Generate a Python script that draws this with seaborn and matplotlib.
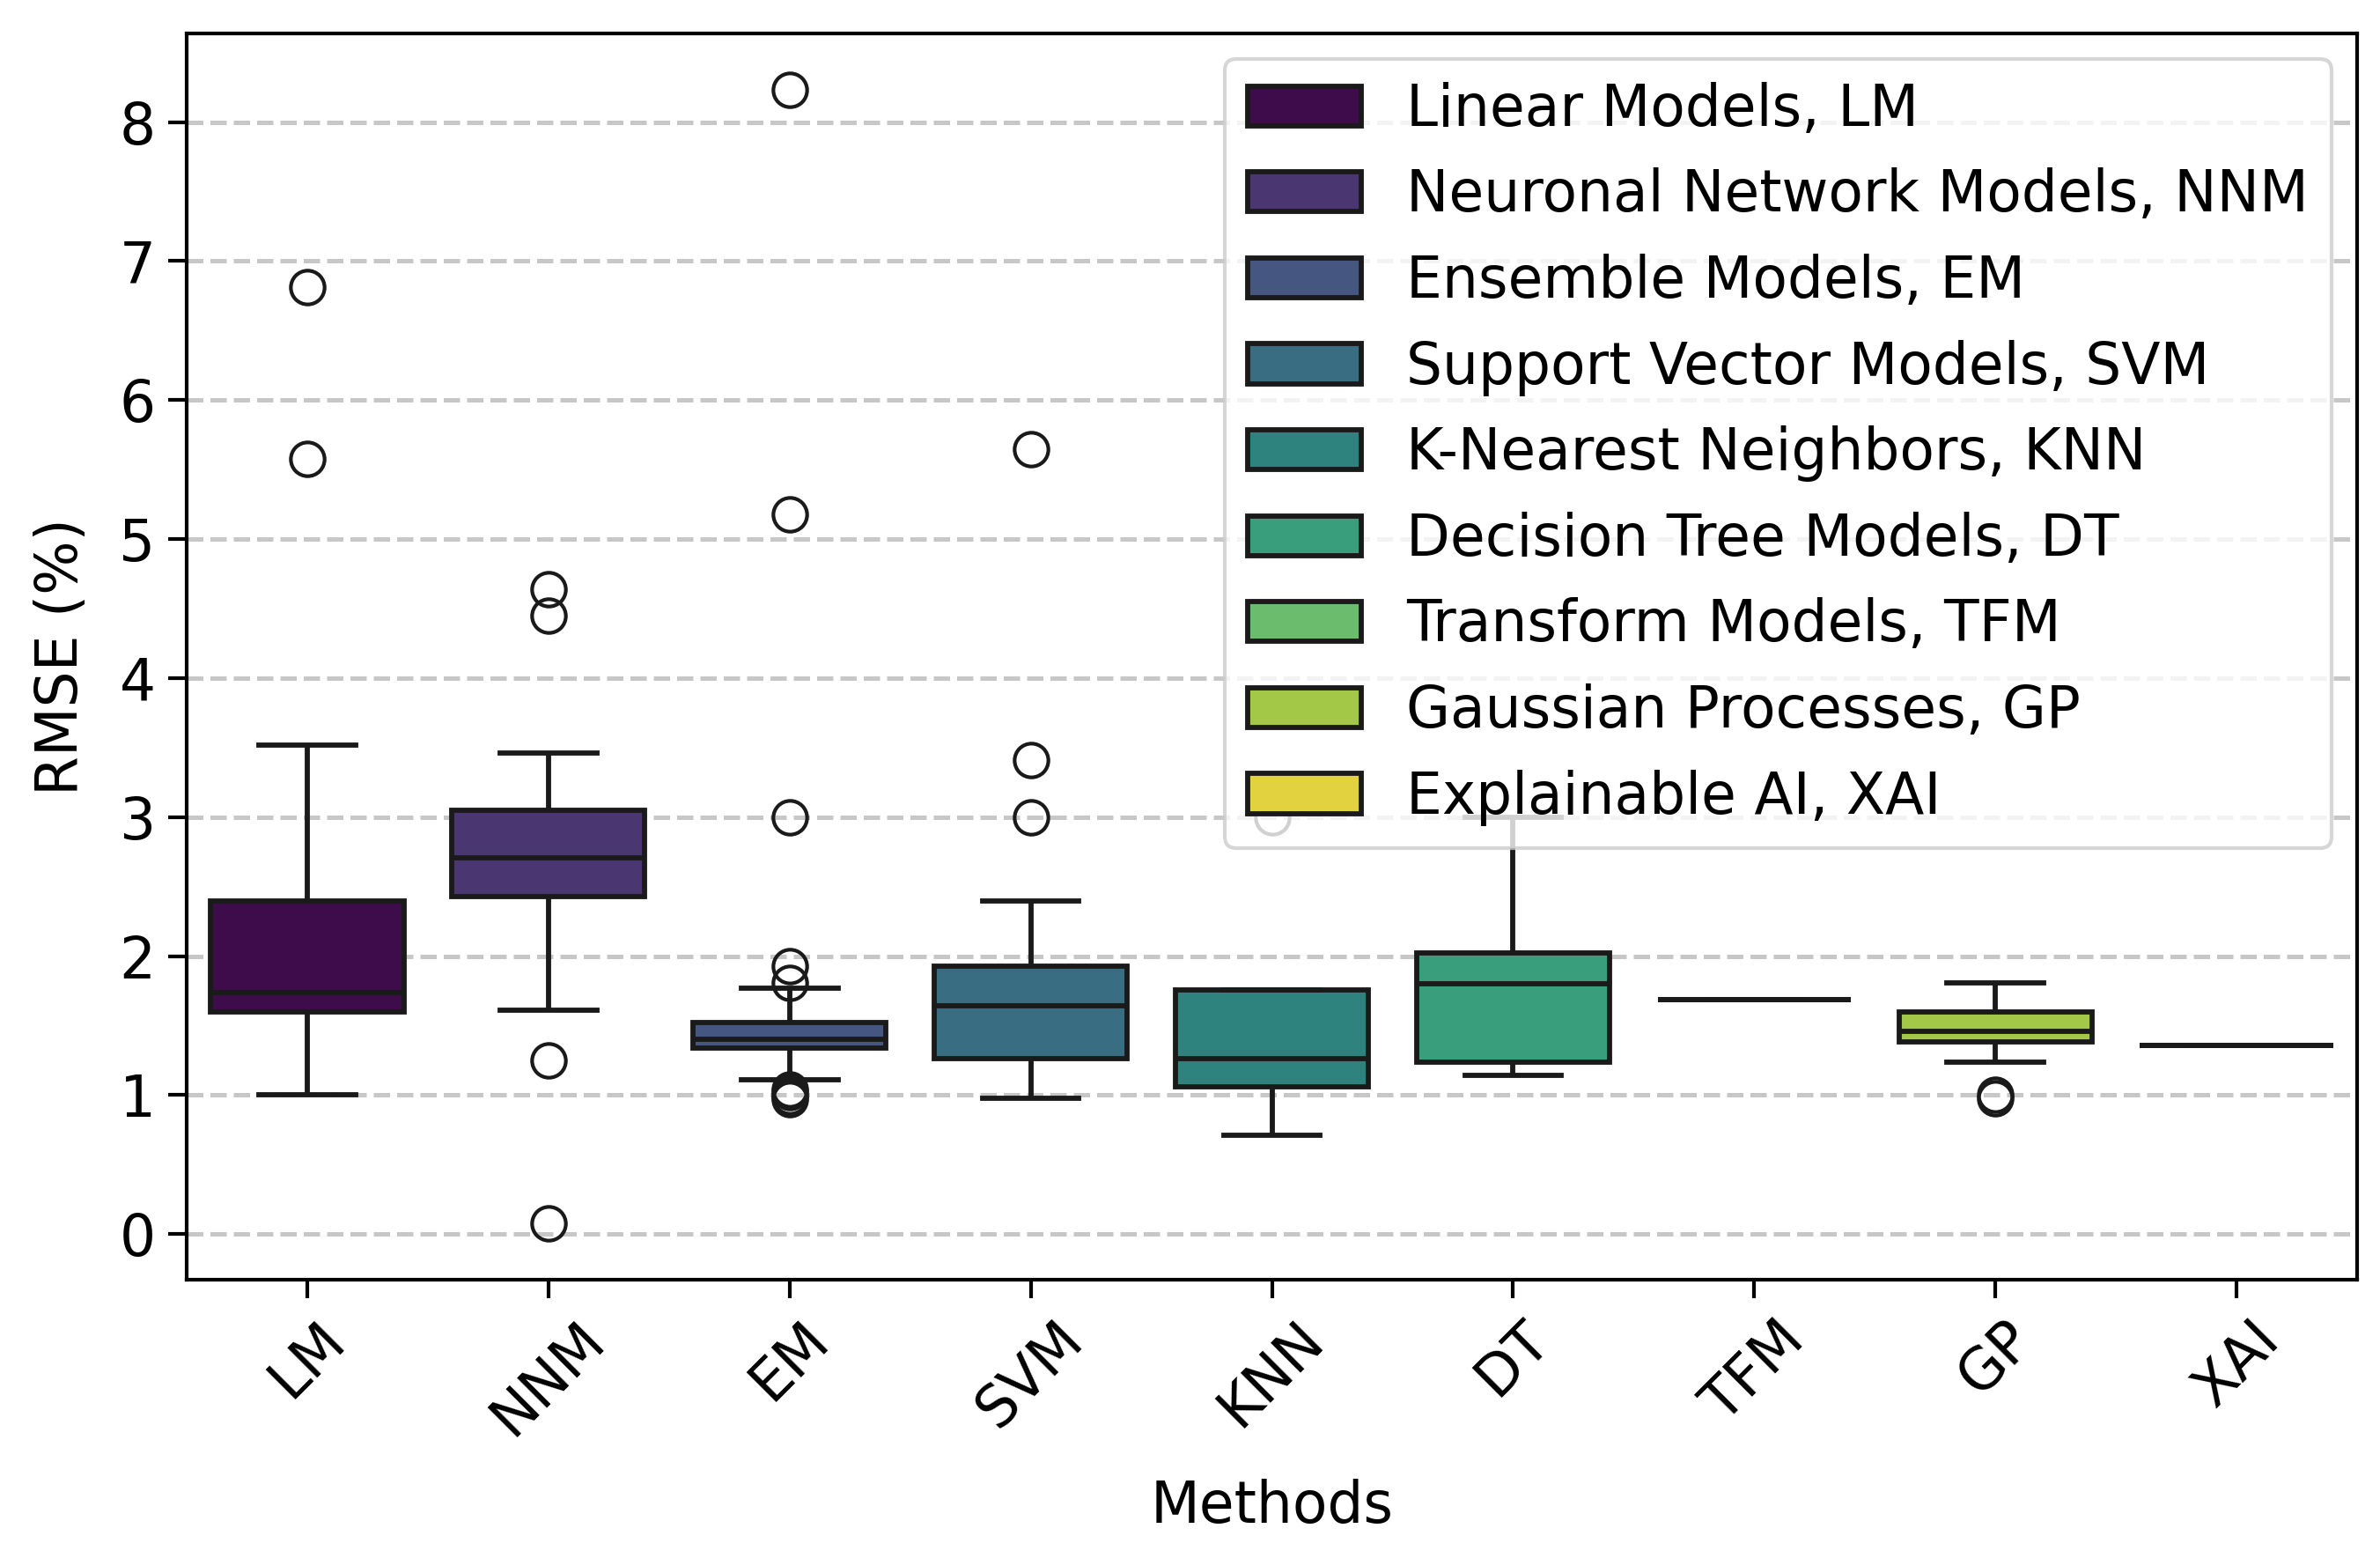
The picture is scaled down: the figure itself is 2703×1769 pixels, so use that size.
import numpy as np
import pandas as pd
import matplotlib
matplotlib.use("Agg")
import matplotlib.pyplot as plt
import seaborn as sns

# ---- data ----
methods = ["LM", "NNM", "EM", "SVM", "KNN", "DT", "TFM", "GP", "XAI"]
names = [
    "Linear Models, LM",
    "Neuronal Network Models, NNM",
    "Ensemble Models, EM",
    "Support Vector Models, SVM",
    "K-Nearest Neighbors, KNN",
    "Decision Tree Models, DT",
    "Transform Models, TFM",
    "Gaussian Processes, GP",
    "Explainable AI, XAI",
]
lm = [1.00, 1.35, 1.55, 1.60, 1.65, 1.70, 1.74, 1.90, 2.10, 2.40, 3.52, 5.58, 6.81]
nnm = [0.08, 1.25, 1.61, 2.20, 2.43, 2.50, 2.60, 2.65, 2.71, 2.80, 2.90, 3.00,
       3.05, 3.20, 3.46, 4.45, 4.64]
em = [0.97, 0.99, 1.02, 1.04, 1.11, 1.25, 1.34, 1.35, 1.36, 1.37, 1.38, 1.39,
      1.40, 1.42, 1.44, 1.46, 1.48, 1.50, 1.52, 1.77, 1.81, 1.93, 3.00, 5.18, 8.23]
svm = [0.98, 1.05, 1.15, 1.20, 1.26, 1.35, 1.45, 1.55, 1.64, 1.72, 1.80, 1.88,
       1.93, 2.40, 3.00, 3.41, 5.65]
knn = [0.71, 0.90, 1.06, 1.15, 1.26, 1.50, 1.76, 1.76, 3.00]
dt = [1.14, 1.20, 1.235, 1.50, 1.80, 1.90, 2.02, 2.50, 3.00]
tfm = [1.69]
gp = [0.98, 1.00, 1.235, 1.385, 1.40, 1.43, 1.46, 1.50, 1.55, 1.596, 1.65, 1.72, 1.806]
xai = [1.36]

values = [lm, nnm, em, svm, knn, dt, tfm, gp, xai]
rows = []
for m, n, vals in zip(methods, names, values):
    for v in vals:
        rows.append({"Method": m, "Name": n, "RMSE": v})
df = pd.DataFrame(rows)

# ---- style ----
FS = 15.5
plt.rcParams["font.family"] = ["DejaVu Sans"]
plt.rcParams["font.size"] = FS
plt.rcParams["axes.linewidth"] = 1.0
plt.rcParams["xtick.major.size"] = 5
plt.rcParams["ytick.major.size"] = 5
plt.rcParams["xtick.major.width"] = 1.0
plt.rcParams["ytick.major.width"] = 1.0

W, H, DPI = 2703, 1769, 300
fig, ax = plt.subplots(figsize=(W / DPI, H / DPI), dpi=DPI)
fig.subplots_adjust(left=212 / W, right=2677 / W, top=1 - 38 / H, bottom=1 - 1453 / H)

cols = plt.cm.viridis(np.linspace(0, 1, len(names)))
palette = {n: c for n, c in zip(names, cols)}

sns.boxplot(data=df, x="Method", y="RMSE", hue="Name", order=methods,
            hue_order=names, palette=palette, linewidth=1.4, fliersize=9.2,
            ax=ax)

ax.grid(axis="y", linestyle="--", alpha=0.7, linewidth=1.2)
ax.set_axisbelow(True)
ax.set_xlabel("Methods", fontsize=FS, labelpad=9)
ax.set_ylabel("RMSE (%)", fontsize=FS, labelpad=8)
ax.tick_params(axis="both", labelsize=FS)
plt.setp(ax.get_xticklabels(), rotation=45)

sns.move_legend(ax, "upper right", title=None, fontsize=FS, labelspacing=0.52,
                borderaxespad=0.45)

fig.savefig("out.png", dpi=DPI)
